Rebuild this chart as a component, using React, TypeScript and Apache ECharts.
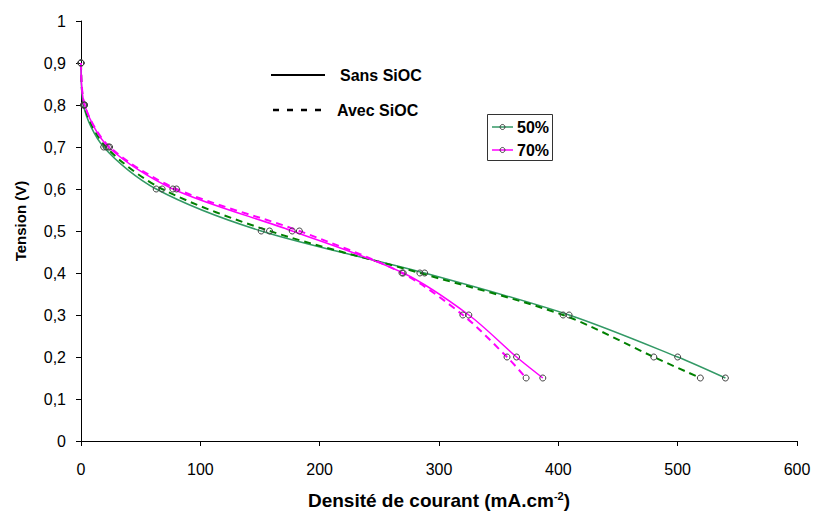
import React, { useEffect, useRef } from "react";
import * as echarts from "echarts";

const voltage = [0.9, 0.8, 0.7, 0.6, 0.5, 0.4, 0.3, 0.2, 0.15];
const current50Sans = [0, 2, 19, 63, 151, 288, 409, 500, 540];
const current50Avec = [0, 2.5, 21, 68, 158, 284, 404, 480, 519];
const current70Sans = [0, 3, 23, 77, 177, 270, 325, 365, 387];
const current70Avec = [0, 3, 24, 80, 183, 269, 320, 357, 373];

const GREEN_SOLID = "#339966";
const GREEN_DASH = "#008000";
const MAGENTA = "#FF00FF";
const FONT = "'Liberation Sans', Arial, sans-serif";

function pairs(xs: number[]) {
  return xs.map((x, i) => [x, voltage[i]]);
}

function makeSeries(name: string, xs: number[], color: string, dashed: boolean, z: number) {
  return {
    name,
    type: "line",
    data: pairs(xs),
    smooth: 0.3,
    z,
    symbol: "circle",
    symbolSize: 6,
    itemStyle: { color: "rgba(0,0,0,0)", borderColor: "#404040", borderWidth: 1 },
    lineStyle: dashed
      ? { color, width: 2, type: [7, 5] }
      : { color, width: 1.5, type: "solid" },
    emphasis: { disabled: true },
  };
}

export default function App() {
  const ref = useRef<HTMLDivElement>(null);
  useEffect(() => {
    if (!ref.current) return;
    const chart = echarts.init(ref.current, null, { renderer: "svg" });
    chart.setOption({
      animation: false,
      backgroundColor: "#ffffff",
      grid: { left: 81, top: 21, right: 18, bottom: 73 },
      xAxis: {
        type: "value",
        min: 0,
        max: 600,
        interval: 100,
        name: "{b|Densité de courant (mA.cm}{s|-2}{b|)}",
        nameLocation: "middle",
        nameGap: 49,
        nameTextStyle: {
          rich: {
            b: { fontFamily: FONT, fontWeight: "bold", fontSize: 19, color: "#000" },
            s: { fontFamily: FONT, fontWeight: "bold", fontSize: 11, color: "#000", verticalAlign: "top", padding: [0, 0, 10, 0] },
          },
        },
        splitLine: { show: false },
        axisLine: { lineStyle: { color: "#000", width: 1 } },
        axisTick: { show: true, length: 5, lineStyle: { color: "#000" } },
        axisLabel: { color: "#000", fontFamily: FONT, fontSize: 16, margin: 20 },
      },
      yAxis: {
        type: "value",
        min: 0,
        max: 1,
        interval: 0.1,
        splitLine: { show: false },
        axisLine: { show: true, lineStyle: { color: "#000", width: 1 } },
        axisTick: { show: true, length: 5, lineStyle: { color: "#000" } },
        axisLabel: {
          color: "#000",
          fontFamily: FONT,
          fontSize: 16,
          margin: 15,
          formatter: (v: number) =>
            Math.abs(v) < 1e-9 ? "0" : Math.abs(v - 1) < 1e-9 ? "1" : v.toFixed(1).replace(".", ","),
        },
      },
      series: [
        makeSeries("50% sans", current50Sans, GREEN_SOLID, false, 2),
        makeSeries("50% avec", current50Avec, GREEN_DASH, true, 2),
        makeSeries("70% sans", current70Sans, MAGENTA, false, 3),
        makeSeries("70% avec", current70Avec, MAGENTA, true, 3),
      ],
      graphic: [
        {
          type: "text",
          x: 20,
          y: 221,
          rotation: Math.PI / 2,
          style: {
            text: "Tension (V)",
            fontFamily: FONT,
            fontWeight: "bold",
            fontSize: 15,
            fill: "#000",
            align: "center",
            verticalAlign: "middle",
          },
        },
        { type: "line", shape: { x1: 271, y1: 75, x2: 325, y2: 75 }, style: { stroke: "#000", lineWidth: 2 } },
        {
          type: "text",
          x: 340,
          y: 75,
          style: { text: "Sans SiOC", fontFamily: FONT, fontWeight: "bold", fontSize: 16, fill: "#000", verticalAlign: "middle" },
        },
        {
          type: "line",
          shape: { x1: 273, y1: 110, x2: 323, y2: 110 },
          style: { stroke: "#000", lineWidth: 2.5, lineDash: [6, 8] },
        },
        {
          type: "text",
          x: 337,
          y: 110,
          style: { text: "Avec SiOC", fontFamily: FONT, fontWeight: "bold", fontSize: 16, fill: "#000", verticalAlign: "middle" },
        },
        {
          type: "rect",
          shape: { x: 487.5, y: 114.5, width: 65, height: 46 },
          style: { fill: "#fff", stroke: "#333", lineWidth: 1 },
        },
        { type: "line", shape: { x1: 492, y1: 127, x2: 513, y2: 127 }, style: { stroke: GREEN_SOLID, lineWidth: 1.5 } },
        { type: "circle", shape: { cx: 502.5, cy: 127, r: 2.5 }, style: { fill: "none", stroke: "#404040", lineWidth: 1 } },
        {
          type: "text",
          x: 517,
          y: 127,
          style: { text: "50%", fontFamily: FONT, fontWeight: "bold", fontSize: 16, fill: "#000", verticalAlign: "middle" },
        },
        { type: "line", shape: { x1: 492, y1: 150, x2: 513, y2: 150 }, style: { stroke: MAGENTA, lineWidth: 1.5 } },
        { type: "circle", shape: { cx: 502.5, cy: 150, r: 2.5 }, style: { fill: "none", stroke: "#404040", lineWidth: 1 } },
        {
          type: "text",
          x: 517,
          y: 150,
          style: { text: "70%", fontFamily: FONT, fontWeight: "bold", fontSize: 16, fill: "#000", verticalAlign: "middle" },
        },
      ],
    });
    return () => chart.dispose();
  }, []);
  return (
    <div
      ref={ref}
      style={{ position: "fixed", left: 0, top: 0, width: 815, height: 515, background: "#fff" }}
    />
  );
}
